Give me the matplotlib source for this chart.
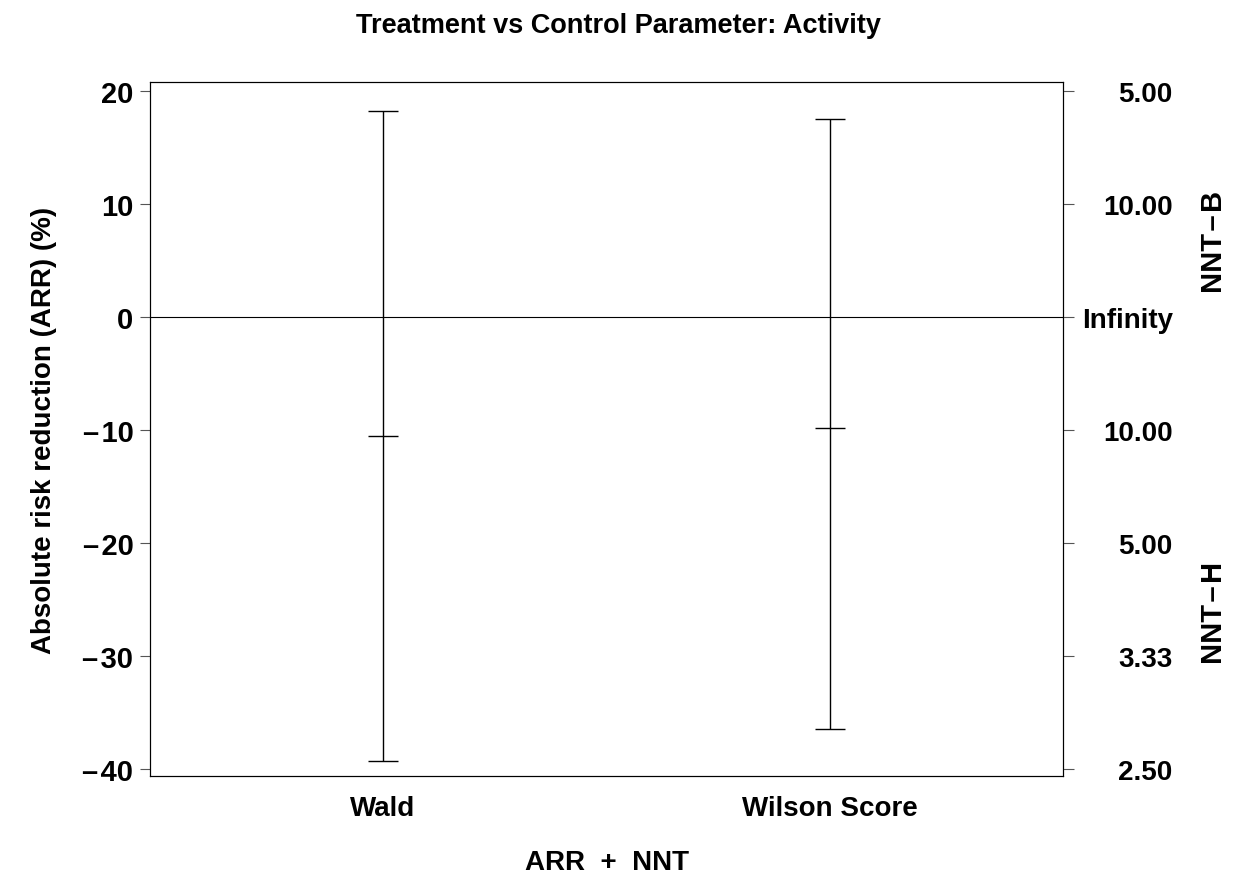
import matplotlib
matplotlib.use("Agg")
import matplotlib.pyplot as plt

plt.rcParams['font.family'] = ['Liberation Sans', 'DejaVu Sans']
plt.rcParams['font.weight'] = 'bold'
plt.rcParams['axes.labelweight'] = 'bold'
plt.rcParams['figure.titleweight'] = 'bold'

# data (ARR, %)
methods = ['Wald', 'Wilson Score']
arr_est = [-10.5, -9.8]
arr_low = [-39.3, -36.4]
arr_high = [18.2, 17.5]
yticks = [20, 10, 0, -10, -20, -30, -40]

fig = plt.figure(figsize=(12.36, 8.79), dpi=100)
ax = fig.add_axes([0.1214, 0.116, 0.7386, 0.7896])

xpos = [1, 2]
lo_err = [e - l for e, l in zip(arr_est, arr_low)]
hi_err = [h - e for e, h in zip(arr_est, arr_high)]
ax.errorbar(xpos, arr_est, yerr=[lo_err, hi_err], fmt='_', color='black',
            markersize=21, markeredgewidth=1, elinewidth=1, capsize=10.5,
            capthick=1)
ax.axhline(0, color='black', lw=0.8)

ax.set_xlim(0.48, 2.52)
ax.set_ylim(-40.6, 20.8)
ax.set_xticks(xpos)
ax.set_xticklabels(methods)
ax.set_yticks(yticks)
ax.set_yticklabels([('\u2013\u200a%d' % -v) if v < 0 else str(v) for v in yticks])
ax.tick_params(axis='x', length=0, pad=14, labelsize=20)
ax.tick_params(axis='y', length=7, pad=5, labelsize=21, color='#555555')
for s in ax.spines.values():
    s.set_linewidth(0.8)

ax.set_ylabel('Absolute risk reduction (ARR) (%)', fontsize=20, labelpad=18)
ax.set_xlabel('ARR  +  NNT', fontsize=20, labelpad=20)
fig.suptitle('Treatment vs Control Parameter: Activity', fontsize=19.5, y=0.985)

# right axis: NNT = 100 / |ARR|
ax2 = ax.twinx()
ax2.set_ylim(ax.get_ylim())
ax2.set_yticks(yticks)
ax2.set_yticklabels(['Infinity' if v == 0 else '%.2f' % (100 / abs(v)) for v in yticks])
ax2.tick_params(axis='y', length=8, pad=71, labelsize=20, color='#555555')
for lab in ax2.get_yticklabels():
    lab.set_horizontalalignment('right')
ax2.text(1.165, 0.771, 'NNT\u200a\u2013\u200aB', rotation=90, transform=ax.transAxes,
         ha='center', va='center', fontsize=21)
ax2.text(1.165, 0.236, 'NNT\u200a\u2013\u200aH', rotation=90, transform=ax.transAxes,
         ha='center', va='center', fontsize=21)

fig.savefig('out.png', dpi=100)
